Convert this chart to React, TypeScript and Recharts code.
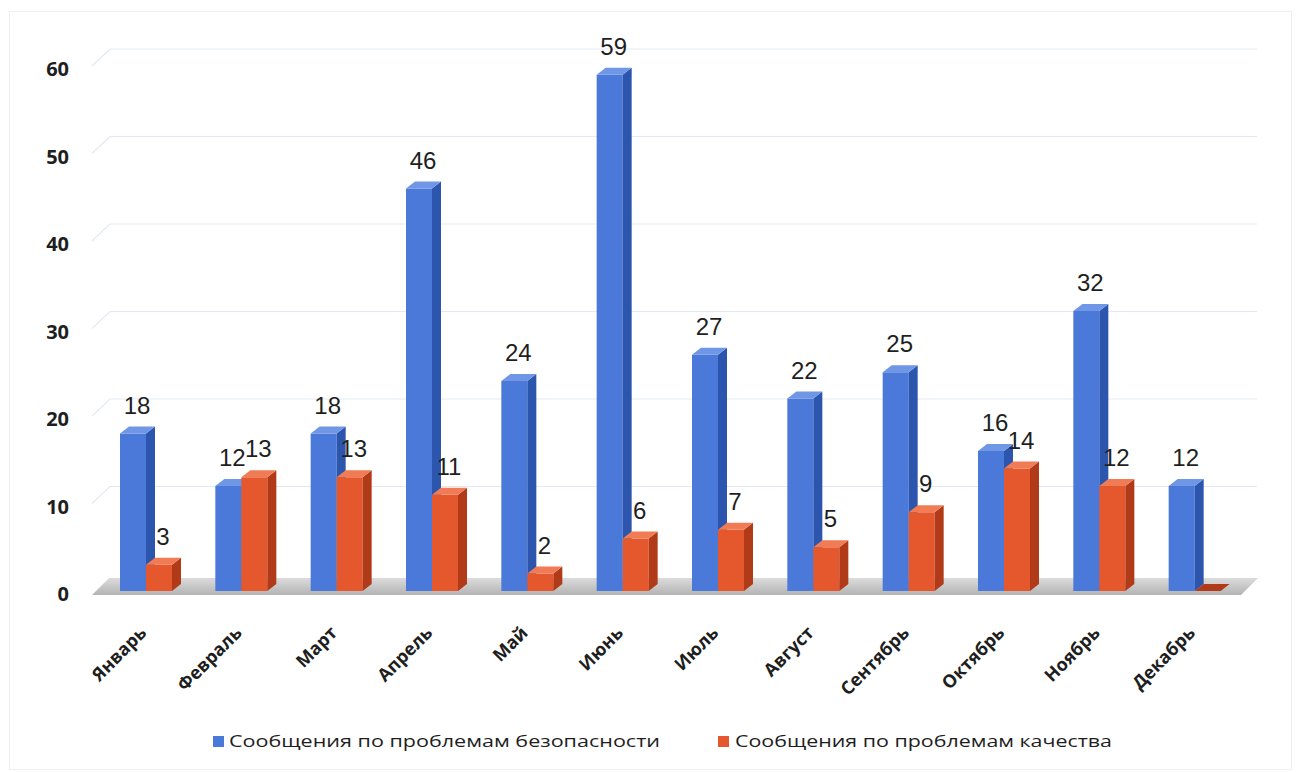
import React from "react"
import { Bar, BarChart, CartesianGrid, LabelList, Legend, XAxis, YAxis } from "recharts"

const months = ["Январь", "Февраль", "Март", "Апрель", "Май", "Июнь", "Июль", "Август", "Сентябрь", "Октябрь", "Ноябрь", "Декабрь"]
const safety = [18, 12, 18, 46, 24, 59, 27, 22, 25, 16, 32, 12]
const quality = [3, 13, 13, 11, 2, 6, 7, 5, 9, 14, 12, 0]
const yTicks = [0, 10, 20, 30, 40, 50, 60]
const safetyName = "Сообщения по проблемам безопасности"
const qualityName = "Сообщения по проблемам качества"

const data = months.map((m, i) => ({ name: m, safety: safety[i], quality: quality[i] }))

const DX = 9
const DY = 7

const palette: Record<string, { front: string; side: string; top: string }> = {
    blue: { front: "#4a79d9", side: "#2c55ad", top: "#7096e6" },
    red: { front: "#e5572d", side: "#b13a18", top: "#f07b55" },
}

function make3dBar(kind: "blue" | "red") {
    const c = palette[kind]
    return (props: any) => {
        const { x, y, width, height } = props
        if (x == null || y == null) return null
        const h = Math.max(height || 0, 0)
        if (h === 0) {
            return (
                <polygon
                    points={`${x},${y} ${x + DX},${y - DY} ${x + width + DX},${y - DY} ${x + width},${y}`}
                    fill={c.side}
                />
            )
        }
        return (
            <g>
                <rect x={x} y={y} width={width} height={h} fill={c.front} />
                <polygon
                    points={`${x + width},${y} ${x + width + DX},${y - DY} ${x + width + DX},${y + h - DY} ${x + width},${y + h}`}
                    fill={c.side}
                />
                <polygon
                    points={`${x},${y} ${x + DX},${y - DY} ${x + width + DX},${y - DY} ${x + width},${y}`}
                    fill={c.top}
                />
            </g>
        )
    }
}

const valueLabel = (props: any) => {
    const { x, y, width, value } = props
    if (!value) return null
    return (
        <text
            x={x + width / 2 + 4}
            y={y - 20}
            textAnchor="middle"
            fontFamily="'Liberation Sans', sans-serif"
            fontSize={24}
            fill="#1f1f1f"
        >
            {value}
        </text>
    )
}

// back-wall grid lines plus the grey floor under the bars
const gridLine = (props: any) => {
    const { x1, x2, y1, index, y, height } = props
    const isFloor = y != null && height != null ? Math.abs(y1 - (y + height)) < 1 : index === 0
    if (isFloor) {
        return (
            <g key={`floor-${index}`}>
                <defs>
                    <linearGradient id="floorGrad" x1="0" y1="0" x2="0" y2="1">
                        <stop offset="0%" stopColor="#dcdcdc" />
                        <stop offset="100%" stopColor="#b3b3b3" />
                    </linearGradient>
                </defs>
                <polygon
                    points={`${x1 - 6},${y1 + 4} ${x1 + 11},${y1 - 13} ${x2 + 16},${y1 - 13} ${x2 - 1},${y1 + 4}`}
                    fill="url(#floorGrad)"
                />
            </g>
        )
    }
    return (
        <path
            key={`grid-${index}`}
            d={`M${x1 - 6},${y1} L${x1 + 12},${y1 - 17} L${x2 + 15},${y1 - 17}`}
            stroke="#e3e9f3"
            strokeWidth={1.2}
            fill="none"
        />
    )
}

const monthTick = (props: any) => {
    const { x, y, payload } = props
    return (
        <text
            transform={`translate(${x + 2},${y + 35}) rotate(-45)`}
            textAnchor="end"
            fontFamily="'Open Sans', sans-serif"
            fontWeight={700}
            fontSize={18}
            fill="#1e1e1e"
        >
            {payload.value}
        </text>
    )
}

const legendContent = () => (
    <svg width={1301} height={30}>
        <rect x={213} y={11} width={11} height={11} fill={palette.blue.front} />
        <text x={229} y={22} fontFamily="'Open Sans', sans-serif" fontSize={17} fill="#1e1e1e" textLength={431} lengthAdjust="spacingAndGlyphs">
            {safetyName}
        </text>
        <rect x={718} y={11} width={11} height={11} fill={palette.red.front} />
        <text x={735} y={22} fontFamily="'Open Sans', sans-serif" fontSize={17} fill="#1e1e1e" textLength={377} lengthAdjust="spacingAndGlyphs">
            {qualityName}
        </text>
    </svg>
)

export default function App() {
    return (
        <div style={{ position: "absolute", left: 0, top: 0, width: 1301, height: 772, background: "#fff" }}>
            <div style={{ position: "absolute", left: 9, top: 11, width: 1281, height: 757, border: "1px solid #efefef" }} />
            <BarChart
                width={1301}
                height={772}
                data={data}
                margin={{ top: 66, right: 59, bottom: 81, left: 0 }}
                barGap={0}
            >
                <CartesianGrid vertical={false} horizontal={gridLine} />
                <XAxis
                    dataKey="name"
                    axisLine={false}
                    tickLine={false}
                    interval={0}
                    tick={monthTick}
                    height={100}
                />
                <YAxis
                    domain={[0, 60]}
                    ticks={yTicks}
                    axisLine={false}
                    tickLine={false}
                    width={98}
                    tickMargin={23}
                    tick={{ fill: "#1e1e1e", fontSize: 20, fontWeight: 700, fontFamily: "'Open Sans', sans-serif", dy: 3 }}
                />
                <Legend
                    verticalAlign="middle"
                    align="center"
                    wrapperStyle={{ top: 725, left: 0, width: 1301 }}
                    content={legendContent}
                />
                <Bar dataKey="safety" name={safetyName} barSize={26} shape={make3dBar("blue")} isAnimationActive={false}>
                    <LabelList dataKey="safety" content={valueLabel} />
                </Bar>
                <Bar dataKey="quality" name={qualityName} barSize={26} shape={make3dBar("red")} isAnimationActive={false}>
                    <LabelList dataKey="quality" content={valueLabel} />
                </Bar>
            </BarChart>
        </div>
    )
}
